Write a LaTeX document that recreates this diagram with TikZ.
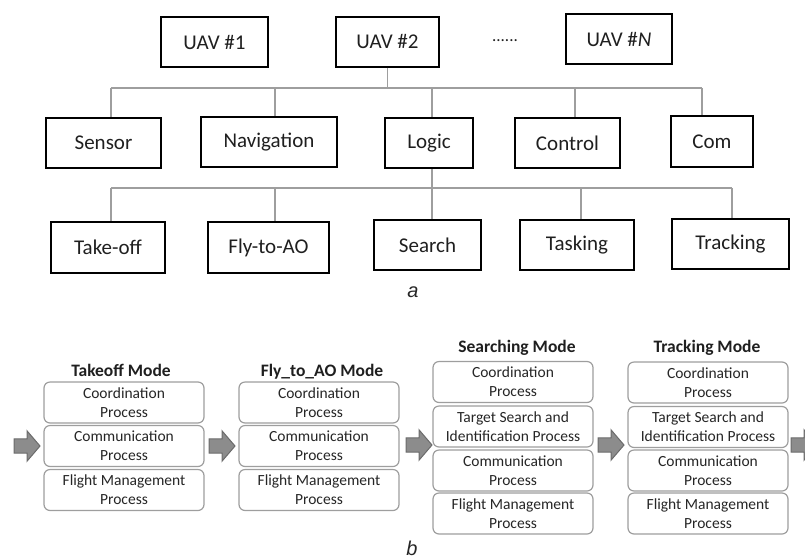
\documentclass[tikz,border=0pt]{standalone}
\usepackage{fontspec}
\setmainfont{Carlito}
\newfontfamily\labfont{Liberation Sans}
\begin{document}
\begin{tikzpicture}[x=1pt,y=-1pt,
  topbox/.style={draw=black, line width=2pt, minimum height=50pt, inner sep=0pt,
    font=\fontsize{21}{25}\selectfont, text=black!88},
  conn/.style={draw=black!38, line width=1.3pt},
  procbox/.style={draw=black!38, line width=1.2pt, rounded corners=6pt, fill=white,
    minimum width=160pt, minimum height=41pt, inner sep=0pt, align=center,
    font=\fontsize{15.5}{19}\selectfont, text=black!85},
  modetitle/.style={anchor=base, font=\fontsize{17.5}{21}\selectfont\bfseries, text=black!88},
  sublabel/.style={font=\labfont\itshape\fontsize{20}{24}\selectfont, text=black!85},
  garrow/.pic={\draw[draw=black!58, fill=black!45, line width=1pt]
    (0,-7.2) -- (13,-7.2) -- (13,-15.2) -- (26,0) -- (13,15.2) -- (13,7.2) -- (0,7.2) -- cycle;}
]
\useasboundingbox (0,0) rectangle (805,558);

% ---------- part a ----------
\node[topbox, minimum width=107pt] (uav1) at (214.5,42) {UAV \#1};
\node[topbox, minimum width=103pt] (uav2) at (387.5,41.5) {UAV \#2};
\node[font=\fontsize{17}{20}\selectfont, text=black!88] (dots) at (505,41) {......};
\node[topbox, minimum width=106pt] (uavn) at (619,39) {UAV \#\textit{N}};

\node[topbox, minimum width=115pt] (sensor) at (103.5,143) {Sensor};
\node[topbox, minimum width=136pt] (nav) at (269,142) {Navigation};
\node[topbox, minimum width=88pt] (logic) at (429,143) {Logic};
\node[topbox, minimum width=105pt] (control) at (567.5,143) {Control};
\node[topbox, minimum width=82pt, minimum height=51pt] (com) at (712,141.5) {Com};

\node[topbox, minimum width=114pt, minimum height=51pt] (takeoff) at (108,247.5) {Take-off};
\node[topbox, minimum width=121pt, minimum height=51pt] (fly) at (268.5,247.5) {Fly-to-AO};
\node[topbox, minimum width=107pt] (search) at (427.5,245) {Search};
\node[topbox, minimum width=114pt] (tasking) at (577,245) {Tasking};
\node[topbox, minimum width=117pt] (tracking) at (730.5,244) {Tracking};

\coordinate (j1) at (111,88);
\coordinate (j2) at (275,88);
\coordinate (j3) at (432,88);
\coordinate (j4) at (575,88);
\coordinate (j5) at (702,88);
\draw[conn] (uav2.south) -- (uav2.south |- j1);
\draw[conn] (j1) -- (j5);
\draw[conn] (j1) -- (j1 |- sensor.north);
\draw[conn] (j2) -- (j2 |- nav.north);
\draw[conn] (j3) -- (j3 |- logic.north);
\draw[conn] (j4) -- (j4 |- control.north);
\draw[conn] (j5) -- (j5 |- com.north);

\coordinate (k1) at (111,188);
\coordinate (k2) at (275,188);
\coordinate (k3) at (432,188);
\coordinate (k4) at (581,188);
\coordinate (k5) at (732,188);
\draw[conn] (k3 |- logic.south) -- (k3);
\draw[conn] (k1) -- (k5);
\draw[conn] (k1) -- (k1 |- takeoff.north);
\draw[conn] (k2) -- (k2 |- fly.north);
\draw[conn] (k3) -- (k3 |- search.north);
\draw[conn] (k4) -- (k4 |- tasking.north);
\draw[conn] (k5) -- (k5 |- tracking.north);

\node[sublabel] (la) at (413,292) {a};

% ---------- part b ----------
\node[modetitle] (t1) at (121,376) {Takeoff Mode};
\node[procbox] (c1a) at (124,402.5) {Coordination\\Process};
\node[procbox] (c1b) at (124,446) {Communication\\Process};
\node[procbox] (c1c) at (124,490) {Flight Management\\Process};

\node[modetitle] (t2) at (322,376) {Fly\_to\_AO Mode};
\node[procbox] (c2a) at (319,402.5) {Coordination\\Process};
\node[procbox] (c2b) at (319,446) {Communication\\Process};
\node[procbox] (c2c) at (319,490) {Flight Management\\Process};

\node[modetitle] (t3) at (517,352) {Searching Mode};
\node[procbox] (c3a) at (513,382) {Coordination\\Process};
\node[procbox] (c3b) at (513,426.5) {Target Search and\\Identification Process};
\node[procbox] (c3c) at (513,470.5) {Communication\\Process};
\node[procbox] (c3d) at (513,513.5) {Flight Management\\Process};

\node[modetitle] (t4) at (707,352) {Tracking Mode};
\node[procbox] (c4a) at (708,382.5) {Coordination\\Process};
\node[procbox] (c4b) at (708,427) {Target Search and\\Identification Process};
\node[procbox] (c4c) at (708,470.5) {Communication\\Process};
\node[procbox] (c4d) at (708,513.5) {Flight Management\\Process};

\pic at (14,446) {garrow};
\pic at (209,446) {garrow};
\pic at (406,445) {garrow};
\pic at (598,445) {garrow};
\pic at (791,445) {garrow};

\node[sublabel] (lb) at (412,548) {b};
\end{tikzpicture}
\end{document}
